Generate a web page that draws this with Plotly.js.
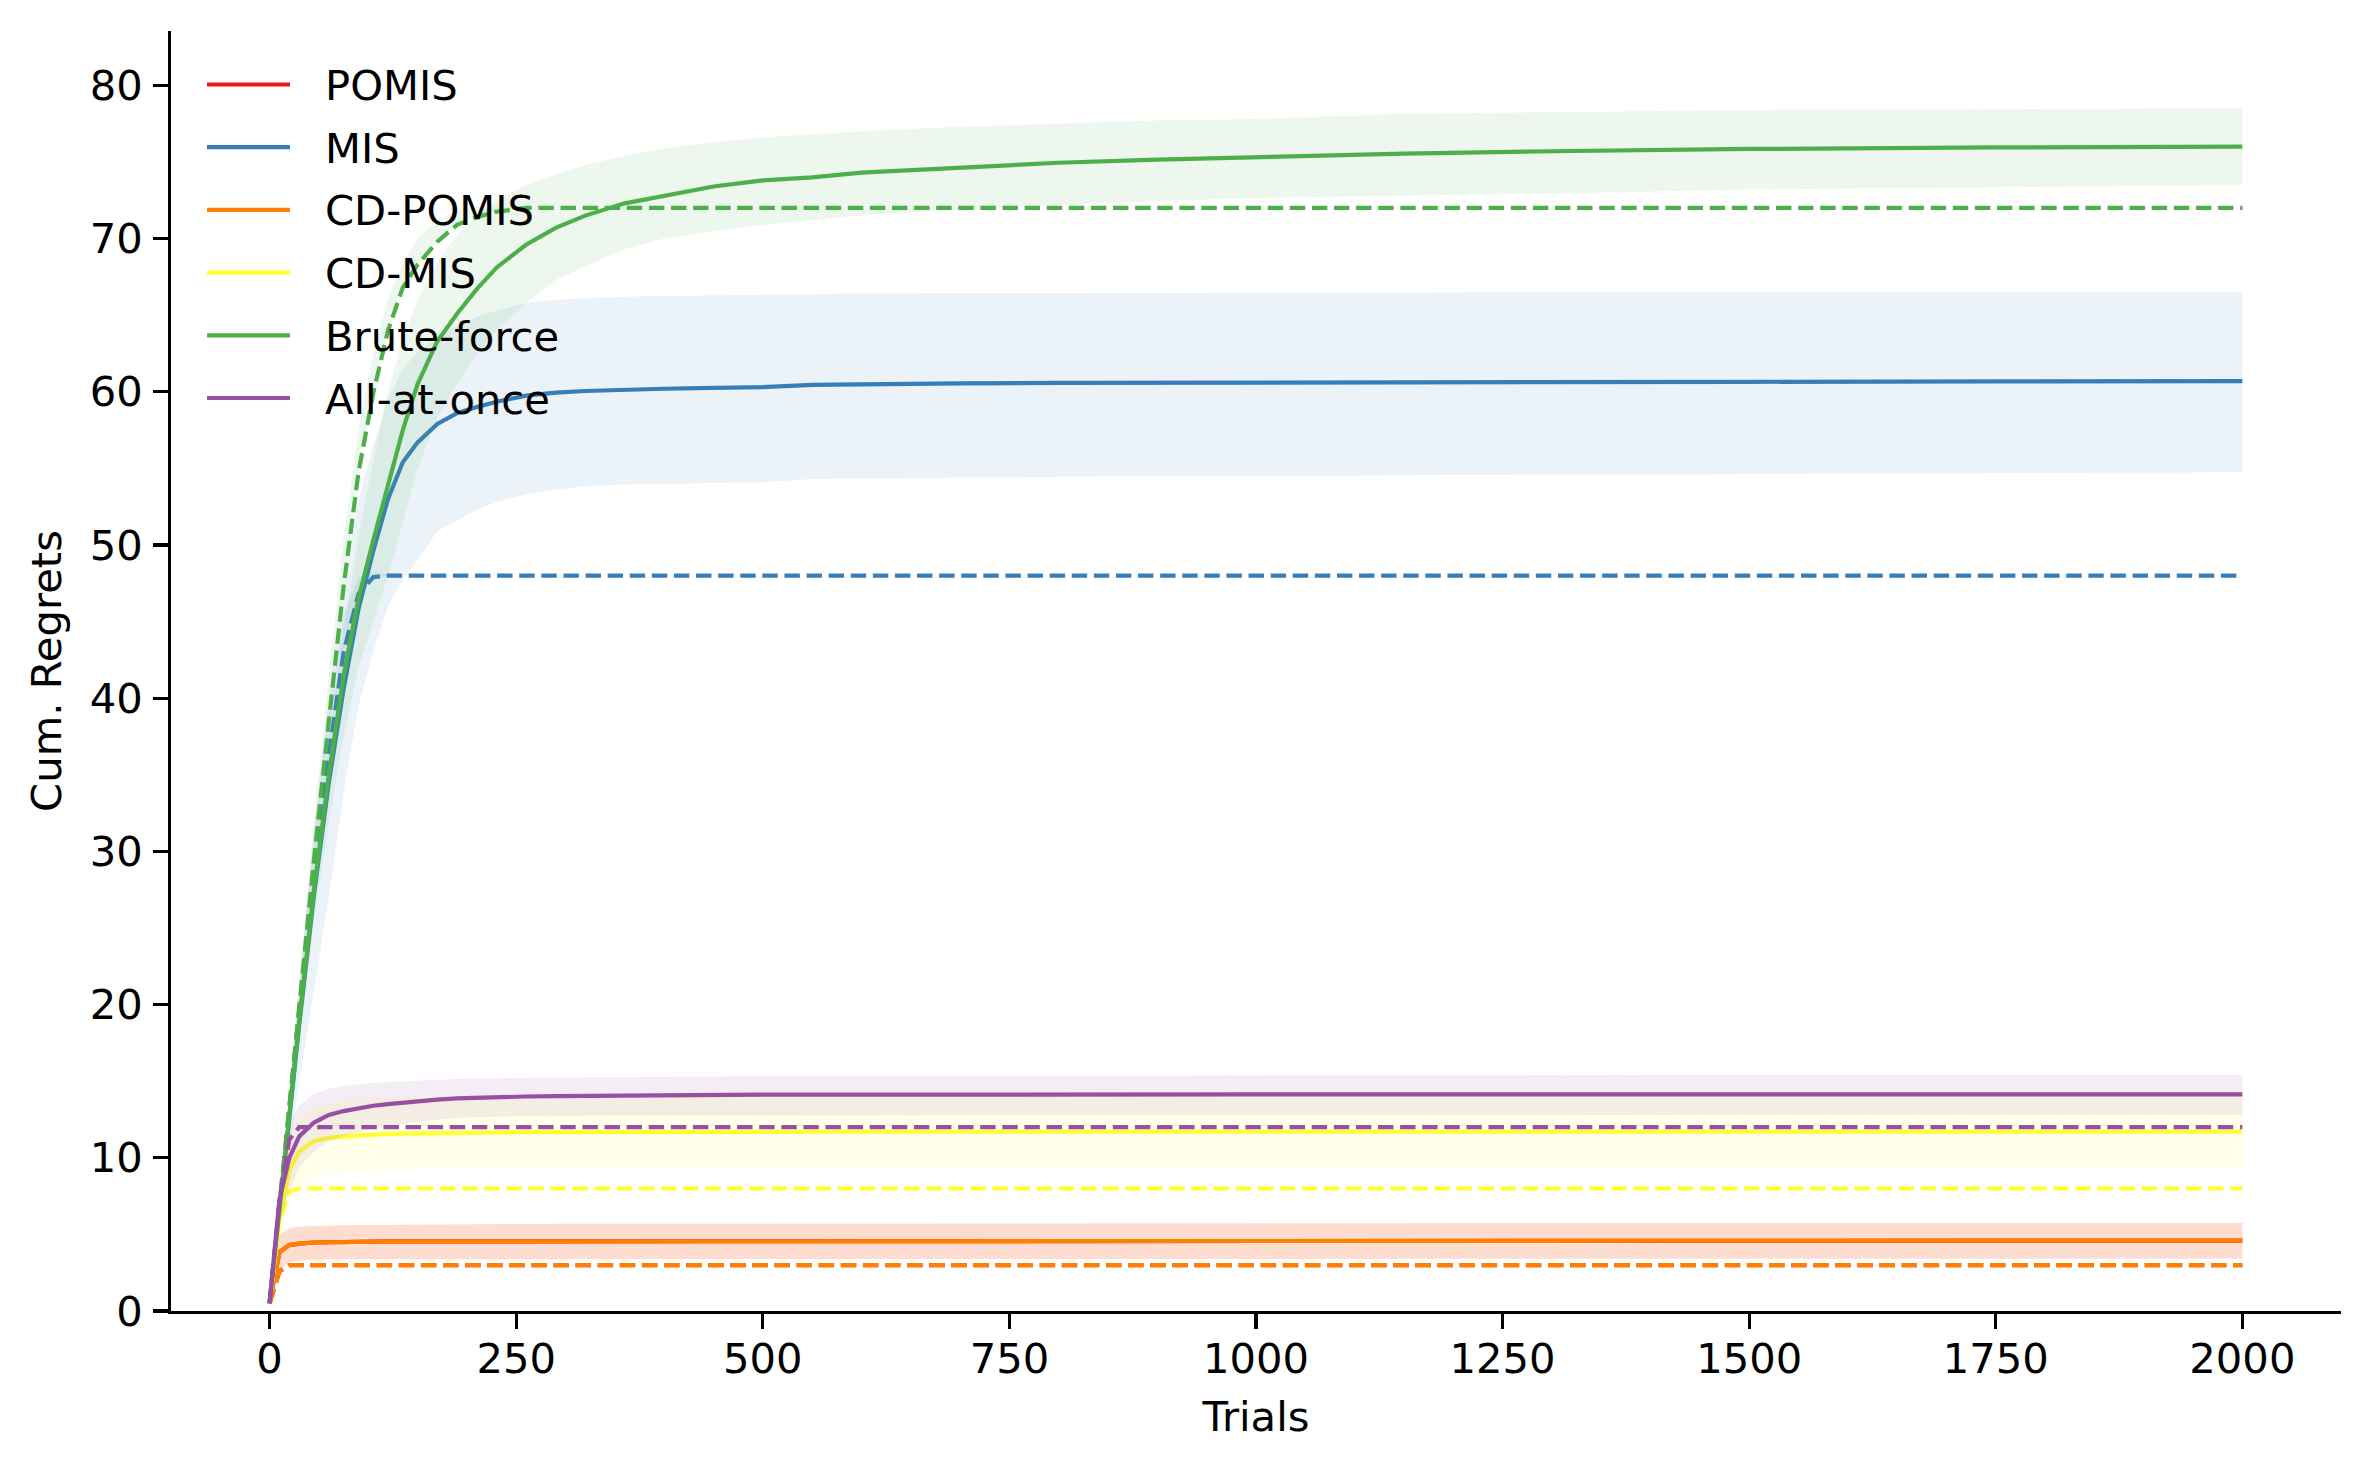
<!DOCTYPE html>
<html>
<head>
<meta charset="utf-8">
<script src="https://cdn.plot.ly/plotly-3.0.1.min.js"></script>
<style>html,body{margin:0;padding:0;background:#fff;}#chart{width:2369px;height:1470px;}</style>
</head>
<body>
<div id="chart"></div>
<script>
// ---------------- data ----------------
const trials = [0, 10, 20, 30, 45, 60, 75, 90, 105, 120, 135, 150, 170, 190, 210, 230, 260, 290, 320, 360, 400, 450, 500, 550, 600, 700, 800, 900, 1000, 1150, 1300, 1500, 1750, 2000];

const methods = ["POMIS", "MIS", "CD-POMIS", "CD-MIS", "Brute-force", "All-at-once"];

// POMIS (identical to CD-POMIS, hidden beneath it)
const pomisMean  = [0.6, 3.85, 4.3, 4.4, 4.47, 4.5, 4.51, 4.52, 4.53, 4.54, 4.54, 4.55, 4.55, 4.55, 4.56, 4.56, 4.56, 4.56, 4.56, 4.57, 4.57, 4.57, 4.57, 4.58, 4.58, 4.59, 4.59, 4.59, 4.59, 4.59, 4.6, 4.6, 4.6, 4.6];
const pomisUpper = [0.7, 5.0, 5.4, 5.5, 5.55, 5.58, 5.6, 5.61, 5.62, 5.63, 5.64, 5.65, 5.66, 5.67, 5.67, 5.68, 5.68, 5.69, 5.69, 5.7, 5.7, 5.7, 5.71, 5.71, 5.72, 5.72, 5.72, 5.73, 5.73, 5.73, 5.74, 5.74, 5.74, 5.74];
const pomisLower = [0.5, 2.7, 3.2, 3.3, 3.35, 3.38, 3.39, 3.4, 3.4, 3.4, 3.4, 3.4, 3.4, 3.4, 3.41, 3.41, 3.41, 3.41, 3.41, 3.41, 3.41, 3.41, 3.41, 3.41, 3.41, 3.42, 3.42, 3.42, 3.42, 3.42, 3.42, 3.42, 3.42, 3.42];
const pomisOpt   = [0.5, 2.6, 3, 3, 3, 3, 3, 3, 3, 3, 3, 3, 3, 3, 3, 3, 3, 3, 3, 3, 3, 3, 3, 3, 3, 3, 3, 3, 3, 3, 3, 3, 3, 3];

// MIS
const misMean  = [0.5, 6.7, 12.8, 18.7, 27.2, 34.5, 40.6, 45.8, 49.6, 53.0, 55.4, 56.7, 57.9, 58.6, 59.0, 59.35, 59.75, 59.95, 60.05, 60.15, 60.2, 60.25, 60.3, 60.45, 60.5, 60.55, 60.58, 60.6, 60.6, 60.62, 60.63, 60.65, 60.68, 60.7];
const misUpper = [0.6, 7.5, 14.5, 21.5, 31.5, 40.0, 47.0, 53.0, 56.5, 59.5, 61.5, 62.6, 63.6, 64.3, 64.9, 65.3, 65.8, 66.0, 66.1, 66.2, 66.25, 66.3, 66.35, 66.4, 66.42, 66.45, 66.45, 66.45, 66.45, 66.47, 66.5, 66.5, 66.5, 66.5];
const misLower = [0.4, 5.5, 10.5, 15.0, 21.0, 27.0, 33.8, 39.5, 43.0, 46.0, 47.8, 49.0, 50.9, 51.6, 52.3, 52.8, 53.3, 53.6, 53.85, 53.95, 54.0, 54.05, 54.1, 54.3, 54.35, 54.4, 54.45, 54.5, 54.5, 54.55, 54.6, 54.65, 54.7, 54.75];
const misOpt   = [0.5, 6.9, 13.3, 19.6, 28.5, 36.3, 43.0, 46.8, 47.9, 48, 48, 48, 48, 48, 48, 48, 48, 48, 48, 48, 48, 48, 48, 48, 48, 48, 48, 48, 48, 48, 48, 48, 48, 48];
const misOptUpper = [0.6, 7.3, 14.2, 21.0, 30.5, 39.0, 45.5, 47.9, 48.2, 48.1, 48, 48, 48, 48, 48, 48, 48, 48, 48, 48, 48, 48, 48, 48, 48, 48, 48, 48, 48, 48, 48, 48, 48, 48];

// CD-POMIS
const cdpomisMean  = [0.6, 3.85, 4.3, 4.4, 4.47, 4.5, 4.51, 4.52, 4.53, 4.54, 4.54, 4.55, 4.55, 4.55, 4.56, 4.56, 4.56, 4.56, 4.56, 4.57, 4.57, 4.57, 4.57, 4.58, 4.58, 4.59, 4.59, 4.59, 4.59, 4.59, 4.6, 4.6, 4.6, 4.6];
const cdpomisUpper = [0.7, 5.0, 5.4, 5.5, 5.55, 5.58, 5.6, 5.61, 5.62, 5.63, 5.64, 5.65, 5.66, 5.67, 5.67, 5.68, 5.68, 5.69, 5.69, 5.7, 5.7, 5.7, 5.71, 5.71, 5.72, 5.72, 5.72, 5.73, 5.73, 5.73, 5.74, 5.74, 5.74, 5.74];
const cdpomisLower = [0.5, 2.7, 3.2, 3.3, 3.35, 3.38, 3.39, 3.4, 3.4, 3.4, 3.4, 3.4, 3.4, 3.4, 3.41, 3.41, 3.41, 3.41, 3.41, 3.41, 3.41, 3.41, 3.41, 3.41, 3.41, 3.42, 3.42, 3.42, 3.42, 3.42, 3.42, 3.42, 3.42, 3.42];
const cdpomisOpt   = [0.5, 2.6, 3, 3, 3, 3, 3, 3, 3, 3, 3, 3, 3, 3, 3, 3, 3, 3, 3, 3, 3, 3, 3, 3, 3, 3, 3, 3, 3, 3, 3, 3, 3, 3];

// CD-MIS
const cdmisMean  = [0.6, 6.0, 9.2, 10.4, 11.1, 11.3, 11.4, 11.47, 11.53, 11.56, 11.58, 11.6, 11.62, 11.64, 11.65, 11.66, 11.67, 11.68, 11.68, 11.69, 11.69, 11.7, 11.7, 11.7, 11.7, 11.7, 11.7, 11.7, 11.7, 11.7, 11.7, 11.7, 11.7, 11.7];
const cdmisUpper = [0.7, 7.5, 11.3, 12.6, 13.3, 13.6, 13.75, 13.85, 13.9, 13.95, 13.98, 14.0, 14.02, 14.04, 14.05, 14.06, 14.07, 14.08, 14.08, 14.09, 14.09, 14.1, 14.1, 14.1, 14.1, 14.1, 14.1, 14.1, 14.1, 14.1, 14.1, 14.1, 14.1, 14.1];
const cdmisLower = [0.5, 4.5, 7.1, 8.2, 8.7, 9.0, 9.1, 9.15, 9.2, 9.22, 9.24, 9.25, 9.26, 9.27, 9.28, 9.29, 9.3, 9.3, 9.3, 9.31, 9.31, 9.32, 9.32, 9.32, 9.32, 9.33, 9.33, 9.33, 9.33, 9.33, 9.33, 9.33, 9.33, 9.33];
const cdmisOpt   = [0.5, 6.0, 7.8, 8, 8, 8, 8, 8, 8, 8, 8, 8, 8, 8, 8, 8, 8, 8, 8, 8, 8, 8, 8, 8, 8, 8, 8, 8, 8, 8, 8, 8, 8, 8];

// Brute-force
const bfMean  = [0.5, 6.8, 12.9, 18.9, 27.5, 35.0, 41.5, 46.5, 50.3, 54.0, 57.5, 60.5, 63.3, 65.1, 66.7, 68.1, 69.6, 70.7, 71.5, 72.3, 72.8, 73.4, 73.8, 74.0, 74.3, 74.65, 74.95, 75.15, 75.3, 75.55, 75.7, 75.85, 75.95, 76.0];
const bfUpper = [0.6, 7.2, 13.6, 20.0, 29.0, 37.0, 44.5, 50.5, 55.5, 60.0, 63.5, 66.0, 68.5, 70.2, 71.5, 72.5, 73.5, 74.2, 74.8, 75.4, 75.9, 76.3, 76.6, 76.8, 77.0, 77.3, 77.5, 77.7, 77.8, 78.15, 78.25, 78.4, 78.45, 78.5];
const bfLower = [0.4, 6.2, 11.9, 17.5, 25.5, 32.0, 37.5, 42.0, 45.0, 48.0, 51.5, 55.0, 58.3, 60.5, 62.5, 64.0, 65.8, 67.3, 68.2, 69.3, 70.0, 70.5, 70.9, 71.2, 71.5, 71.9, 72.2, 72.45, 72.65, 72.8, 72.95, 73.2, 73.35, 73.5];
const bfOpt   = [0.5, 6.9, 13.5, 20.2, 29.5, 38.5, 47.3, 54.7, 59.9, 64.0, 66.8, 68.3, 69.8, 70.9, 71.4, 71.75, 72, 72, 72, 72, 72, 72, 72, 72, 72, 72, 72, 72, 72, 72, 72, 72, 72, 72];
const bfOptUpper = [0.6, 7.6, 14.8, 22.0, 32.0, 41.5, 50.5, 57.5, 62.5, 66.0, 68.5, 70.0, 71.2, 71.8, 72.1, 72.1, 72, 72, 72, 72, 72, 72, 72, 72, 72, 72, 72, 72, 72, 72, 72, 72, 72, 72];

// All-at-once
const aaoMean  = [0.6, 7.3, 10.0, 11.4, 12.3, 12.8, 13.05, 13.25, 13.4, 13.5, 13.6, 13.7, 13.8, 13.88, 13.93, 13.97, 14.0, 14.03, 14.05, 14.08, 14.1, 14.11, 14.12, 14.12, 14.13, 14.13, 14.13, 14.14, 14.14, 14.14, 14.14, 14.14, 14.14, 14.14];
const aaoUpper = [0.7, 8.8, 12.2, 13.4, 14.2, 14.5, 14.7, 14.8, 14.9, 14.95, 15.0, 15.05, 15.1, 15.15, 15.18, 15.2, 15.22, 15.24, 15.26, 15.28, 15.3, 15.3, 15.32, 15.33, 15.34, 15.35, 15.36, 15.37, 15.38, 15.38, 15.39, 15.4, 15.4, 15.4];
const aaoLower = [0.5, 5.8, 7.8, 9.4, 10.4, 11.1, 11.4, 11.7, 11.9, 12.05, 12.2, 12.35, 12.5, 12.6, 12.66, 12.7, 12.73, 12.75, 12.76, 12.77, 12.78, 12.78, 12.79, 12.79, 12.79, 12.8, 12.8, 12.8, 12.8, 12.8, 12.8, 12.8, 12.8, 12.8];
const aaoOpt   = [0.5, 7.2, 11.2, 12, 12, 12, 12, 12, 12, 12, 12, 12, 12, 12, 12, 12, 12, 12, 12, 12, 12, 12, 12, 12, 12, 12, 12, 12, 12, 12, 12, 12, 12, 12];

const xTicks = [0, 250, 500, 750, 1000, 1250, 1500, 1750, 2000];
const yTicks = [0, 10, 20, 30, 40, 50, 60, 70, 80];

// ---------------- styles ----------------
const colors = {
  "POMIS": [228, 26, 28],
  "MIS": [55, 126, 184],
  "CD-POMIS": [255, 127, 0],
  "CD-MIS": [255, 255, 51],
  "Brute-force": [77, 175, 74],
  "All-at-once": [152, 78, 163]
};
const rgb = c => `rgb(${c[0]},${c[1]},${c[2]})`;
const rgba = (c, a) => `rgba(${c[0]},${c[1]},${c[2]},${a})`;
const LW = 4.2;
const DASH = "15.4px,6.7px";
const FONT = "DejaVu Sans, Liberation Sans, sans-serif";
const FS = 41.7;

const series = {
  "POMIS":       {mean: pomisMean,   up: pomisUpper,   lo: pomisLower,   opt: pomisOpt},
  "MIS":         {mean: misMean,     up: misUpper,     lo: misLower,     opt: misOpt, optUp: misOptUpper},
  "CD-POMIS":    {mean: cdpomisMean, up: cdpomisUpper, lo: cdpomisLower, opt: cdpomisOpt},
  "CD-MIS":      {mean: cdmisMean,   up: cdmisUpper,   lo: cdmisLower,   opt: cdmisOpt},
  "Brute-force": {mean: bfMean,      up: bfUpper,      lo: bfLower,      opt: bfOpt, optUp: bfOptUpper},
  "All-at-once": {mean: aaoMean,     up: aaoUpper,     lo: aaoLower,     opt: aaoOpt}
};

const band = (up, lo, c) => ({
  x: trials.concat(trials.slice().reverse()),
  y: up.concat(lo.slice().reverse()),
  type: "scatter", mode: "lines", fill: "toself",
  fillcolor: rgba(c, 0.1), line: {width: 0, color: rgba(c, 0)},
  hoverinfo: "skip", showlegend: false
});

const traces = [];
methods.forEach(m => {
  const s = series[m], c = colors[m];
  traces.push(band(s.up, s.lo, c));
  if (s.optUp) traces.push(band(s.optUp, s.opt, c));
  traces.push({x: trials, y: s.mean, type: "scatter", mode: "lines", name: m,
    line: {color: rgb(c), width: LW}, showlegend: false});
  traces.push({x: trials, y: s.opt, type: "scatter", mode: "lines", name: m + " (opt)",
    line: {color: rgb(c), width: LW, dash: DASH}, showlegend: false});
});

// ---------------- layout ----------------
const W = 2369, H = 1470;
const plotL = 171, plotR = 2341, plotT = 31, plotB = 1311;
const px = v => (v - plotL) / (plotR - plotL);
const py = v => (plotB - v) / (plotB - plotT);

const shapes = [], annotations = [];
methods.forEach((m, i) => {
  const yy = 84.5 + i * 62.7;
  shapes.push({type: "line", xref: "paper", yref: "paper",
    x0: px(207), x1: px(290), y0: py(yy), y1: py(yy),
    line: {color: rgb(colors[m]), width: LW}});
  annotations.push({xref: "paper", yref: "paper", x: px(323), y: py(yy + 1),
    xanchor: "left", yanchor: "middle", showarrow: false, text: m,
    font: {family: FONT, size: FS, color: "#000"}});
});

const axisCommon = {
  showgrid: false, zeroline: false, showline: true, linecolor: "#000", linewidth: 3.3,
  ticks: "outside", ticklen: 14.6, tickwidth: 3.3, tickcolor: "#000",
  tickfont: {family: FONT, size: FS, color: "#000"}, mirror: false
};

const layout = {
  width: W, height: H,
  margin: {l: plotL, r: W - plotR, t: plotT, b: H - plotB, pad: 0},
  paper_bgcolor: "#fff", plot_bgcolor: "#fff",
  showlegend: false,
  font: {family: FONT, size: FS, color: "#000"},
  xaxis: Object.assign({}, axisCommon, {
    range: [-100, 2100], tickmode: "array", tickvals: xTicks, ticktext: xTicks.map(String),
    ticklabelstandoff: -6,
    title: {text: "Trials", font: {family: FONT, size: FS, color: "#000"}, standoff: 21}
  }),
  yaxis: Object.assign({}, axisCommon, {
    range: [0, 83.55], tickmode: "array", tickvals: yTicks, ticktext: yTicks.map(String),
    ticklabelstandoff: 2,
    title: {text: "Cum. Regrets", font: {family: FONT, size: FS, color: "#000"}, standoff: 16}
  }),
  shapes: shapes,
  annotations: annotations
};

Plotly.newPlot("chart", traces, layout, {staticPlot: true, displayModeBar: false});
</script>
</body>
</html>
